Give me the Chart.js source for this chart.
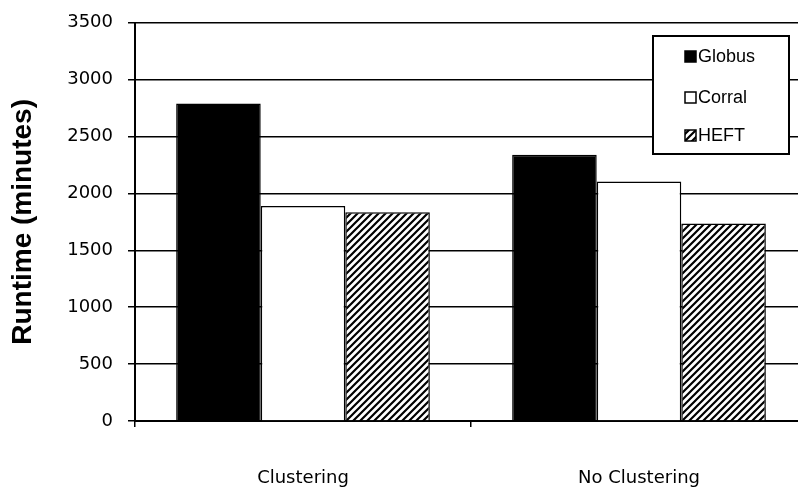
<!DOCTYPE html>
<html>
<head>
<meta charset="utf-8">
<script src="https://cdn.jsdelivr.net/npm/chart.js@4.4.1/dist/chart.umd.min.js"></script>
<style>
  html, body { margin: 0; padding: 0; background: #fff; overflow: hidden; width: 798px; height: 490px; }
  #wrap { position: absolute; left: 0; top: -3px; width: 810px; height: 493px; }
</style>
</head>
<body>
<div id="wrap"><canvas id="c" width="810" height="493"></canvas></div>
<script>
const categories = ['Clustering', 'No Clustering'];
const seriesNames = ['Globus', 'Corral', 'HEFT'];
const globus = [2790, 2340];
const corral = [1890, 2105];
const heft = [1835, 1735];
const yTicks = [0, 500, 1000, 1500, 2000, 2500, 3000, 3500];

function makeHatch() {
  const s = 7;
  const c = document.createElement('canvas');
  c.width = s; c.height = s;
  const g = c.getContext('2d');
  g.fillStyle = '#fff';
  g.fillRect(0, 0, s, s);
  g.strokeStyle = '#000';
  g.lineWidth = 2.2;
  g.beginPath();
  g.moveTo(-1, s + 1); g.lineTo(s + 1, -1);
  g.moveTo(-s / 2 - 1, s / 2 + 1); g.lineTo(s / 2 + 1, -s / 2 - 1);
  g.moveTo(s / 2 - 1, s * 1.5 + 1); g.lineTo(s * 1.5 + 1, s / 2 - 1);
  g.stroke();
  return document.getElementById('c').getContext('2d').createPattern(c, 'repeat');
}
const hatch = makeHatch();

// legend drawn inside the plot, positions in page pixels (canvas is offset by 3px)
const legendBox = {
  id: 'legendBox',
  afterDraw(chart) {
    const ctx = chart.ctx;
    ctx.save();
    ctx.translate(0, 3);
    const x0 = 653, y0 = 36, w = 136, h = 118;
    ctx.fillStyle = '#fff';
    ctx.fillRect(x0, y0, w, h);
    ctx.strokeStyle = '#000';
    ctx.lineWidth = 2;
    ctx.strokeRect(x0, y0, w, h);
    const centers = [57, 98, 136];
    ctx.font = '18px "Liberation Sans", Arial, sans-serif';
    ctx.textBaseline = 'middle';
    ctx.textAlign = 'left';
    chart.data.datasets.forEach((ds, i) => {
      const cy = centers[i];
      const sz = 11;
      ctx.fillStyle = ds.backgroundColor;
      ctx.fillRect(685, cy - 6, sz, sz);
      ctx.lineWidth = 1.5;
      ctx.strokeStyle = '#000';
      ctx.strokeRect(685, cy - 6, sz, sz);
      ctx.fillStyle = '#000';
      ctx.fillText(ds.label, 698, cy);
    });
    ctx.restore();
  }
};

new Chart(document.getElementById('c'), {
  type: 'bar',
  data: {
    labels: categories,
    datasets: [
      { label: seriesNames[0], data: globus, backgroundColor: '#000', borderColor: '#000', borderWidth: 1.5 },
      { label: seriesNames[1], data: corral, backgroundColor: '#fff', borderColor: '#000', borderWidth: 1.5 },
      { label: seriesNames[2], data: heft, backgroundColor: hatch, borderColor: '#000', borderWidth: 1.5 }
    ]
  },
  options: {
    responsive: false,
    animation: false,
    devicePixelRatio: 1,
    layout: { padding: { top: 9, right: 3, left: 0, bottom: 0 } },
    datasets: { bar: { categoryPercentage: 0.755, barPercentage: 1.0 } },
    plugins: { legend: { display: false }, tooltip: { enabled: false } },
    scales: {
      x: {
        offset: true,
        grid: { display: true, drawOnChartArea: false, drawTicks: true, tickLength: 6, color: '#000', lineWidth: 1.5, offset: true },
        border: { display: true, color: '#000', width: 2 },
        ticks: { color: '#000', font: { family: '"DejaVu Sans", Verdana, sans-serif', size: 18 }, padding: 41, maxRotation: 0 },
        afterFit(scale) { scale.height = 69; }
      },
      y: {
        min: 0, max: 3500,
        afterBuildTicks(scale) { scale.ticks = yTicks.map(v => ({ value: v })); },
        grid: { color: '#000', lineWidth: 1.5, drawTicks: true, tickLength: 7 },
        border: { display: true, color: '#000', width: 2 },
        ticks: { color: '#000', font: { family: '"DejaVu Sans", Verdana, sans-serif', size: 18 }, padding: 15, callback: v => String(v) },
        title: { display: true, text: 'Runtime (minutes)', color: '#000', font: { family: '"Liberation Sans", Arial, sans-serif', size: 28, weight: 'bold' }, padding: { top: 6, bottom: 0 } },
        afterFit(scale) { scale.width = 135; }
      }
    }
  },
  plugins: [legendBox]
});
</script>
</body>
</html>
